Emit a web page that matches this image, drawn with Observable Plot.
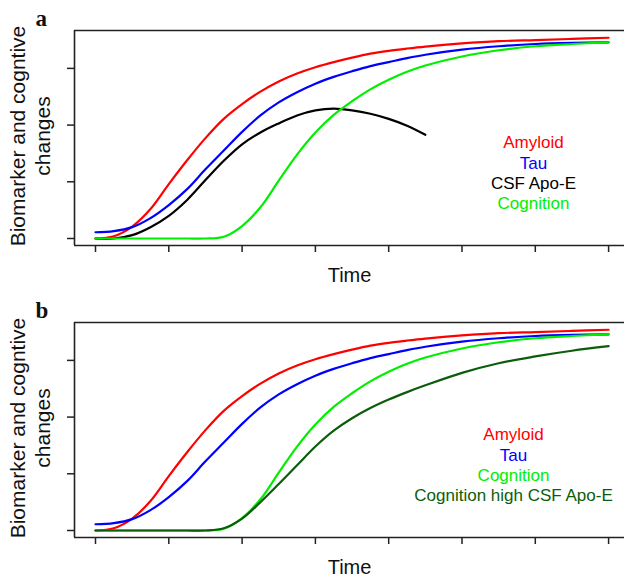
<!DOCTYPE html>
<html>
<head>
<meta charset="utf-8">
<script src="https://cdn.jsdelivr.net/npm/d3@7"></script>
<script src="https://cdn.jsdelivr.net/npm/@observablehq/plot@0.6"></script>
<style>
  html, body { margin: 0; padding: 0; background: #fff; }
  body { width: 624px; height: 578px; overflow: hidden; }
  .panel svg { display: block; }
</style>
</head>
<body>
<div id="panelA" class="panel"></div>
<div id="panelB" class="panel"></div>
<script>
// ---- data ----
const time = [0, 0.25, 0.5, 0.75, 1, 1.25, 1.5, 1.75, 2, 2.25, 2.5, 2.75, 3, 3.25, 3.5, 3.75, 4, 4.25, 4.5, 5, 5.5, 6, 6.5, 7];
const amyloid = [0, 0.04, 0.21, 0.52, 0.96, 1.38, 1.77, 2.11, 2.37, 2.59, 2.77, 2.91, 3.02, 3.11, 3.19, 3.26, 3.31, 3.35, 3.385, 3.44, 3.48, 3.50, 3.52, 3.54];
const tau = [0.11, 0.13, 0.20, 0.36, 0.59, 0.87, 1.22, 1.55, 1.88, 2.17, 2.40, 2.58, 2.73, 2.85, 2.95, 3.04, 3.11, 3.18, 3.24, 3.33, 3.39, 3.43, 3.45, 3.46];
const csfApoE = [0, 0, 0.06, 0.20, 0.40, 0.68, 1.03, 1.37, 1.66, 1.87, 2.03, 2.17, 2.26, 2.29, 2.26, 2.20, 2.11, 1.99, 1.83];
const cognition = [0, 0, 0, 0, 0, 0, 0, 0.03, 0.22, 0.55, 1.02, 1.48, 1.87, 2.18, 2.42, 2.63, 2.80, 2.94, 3.05, 3.21, 3.32, 3.39, 3.43, 3.46];
const cognitionHighApoE = [0, 0, 0, 0, 0, 0, 0, 0.04, 0.21, 0.50, 0.82, 1.15, 1.48, 1.76, 1.98, 2.16, 2.31, 2.44, 2.56, 2.78, 2.95, 3.07, 3.17, 3.25];

const xTicks = [0, 1, 2, 3, 4, 5, 6, 7];
const yTicks = [0, 1, 2, 3];
const xLabel = "Time";
const yLabel = "Biomarker and cogntive\nchanges";
const legendA = ["Amyloid", "Tau", "CSF Apo-E", "Cognition"];
const legendB = ["Amyloid", "Tau", "Cognition", "Cognition high CSF Apo-E"];

// ---- styling ----
const colors = {
  "Amyloid": "#ff0000",
  "Tau": "#0000ff",
  "CSF Apo-E": "#000000",
  "Cognition": "#00ee00",
  "Cognition high CSF Apo-E": "#0b5d0b"
};
const seriesValues = {
  "Amyloid": amyloid,
  "Tau": tau,
  "CSF Apo-E": csfApoE,
  "Cognition": cognition,
  "Cognition high CSF Apo-E": cognitionHighApoE
};

function rows(name) {
  return seriesValues[name].map((v, i) => ({time: time[i], value: v}));
}

const X = [-0.2865, 7.217];
const Y = [-0.1235, 3.668];
const sans = "'Liberation Sans', Arial, sans-serif";

function panel(label, names, legendX) {
  const legendTop = 1.59, legendStep = 0.358;
  return Plot.plot({
    width: 624, height: 292,
    marginLeft: 74, marginRight: 0, marginTop: 30, marginBottom: 47,
    x: {domain: X, label: null},
    y: {domain: Y, label: null},
    style: {fontFamily: sans, background: "white", color: "#111"},
    marks: [
      ...names.map(n => Plot.line(rows(n), {x: "time", y: "value", stroke: colors[n], strokeWidth: 2.2, curve: "catmull-rom"})),
      Plot.ruleX([X[0]], {stroke: "#222", strokeWidth: 1.6}),
      Plot.ruleY(Y, {stroke: "#222", strokeWidth: 1.6}),
      Plot.axisX(xTicks, {tickSize: 7, tickFormat: () => "", label: null, stroke: "#222", strokeWidth: 1.5}),
      Plot.axisY(yTicks, {tickSize: 7, tickFormat: () => "", label: null, stroke: "#222", strokeWidth: 1.5}),
      ...names.map((n, i) => Plot.text([n], {
        x: legendX, y: legendTop - i * legendStep, text: d => d,
        fill: colors[n], fontSize: 17, lineAnchor: "bottom", textAnchor: "middle"
      })),
      Plot.text([xLabel], {frameAnchor: "bottom", dy: 36, fontSize: 20, lineAnchor: "bottom", fill: "#111"}),
      Plot.text([yLabel], {frameAnchor: "left", rotate: -90, dx: -25, dy: -2, fontSize: 21, lineHeight: 1.19, lineAnchor: "bottom", textAnchor: "middle", fill: "#111"}),
      Plot.text([label], {frameAnchor: "top-left", dx: -39, dy: -5, textAnchor: "start", lineAnchor: "bottom",
        fontFamily: "'Liberation Serif', 'Times New Roman', serif", fontWeight: "bold", fontSize: 23, fill: "#111"})
    ]
  });
}

document.getElementById("panelA").append(panel("a", legendA, 5.975));
document.getElementById("panelB").append(panel("b", legendB, 5.703));
</script>
</body>
</html>
